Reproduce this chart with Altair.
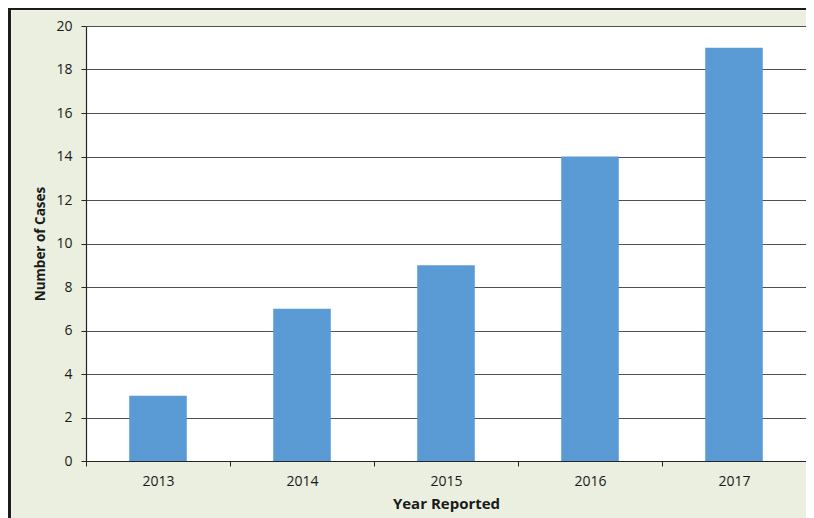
import altair as alt
import pandas as pd

years = ["2013", "2014", "2015", "2016", "2017"]
cases = [3, 7, 9, 14, 19]

df = pd.DataFrame({"year": years, "cases": cases})

FONT = "Open Sans"
TXT = "#1a1a1a"

base = alt.Chart(df)

bars = base.mark_bar(color="#5b9bd5", width=alt.RelativeBandSize(0.4)).encode(
    x=alt.X(
        "year:N",
        sort=years,
        scale=alt.Scale(paddingInner=0, paddingOuter=0),
        axis=alt.Axis(
            title="Year Reported",
            labelAngle=0,
            tickBand="extent",
            grid=False,
            tickSize=5,
            labelPadding=8,
            titlePadding=8,
            titleFontSize=15,
        ),
    ),
    y=alt.Y(
        "cases:Q",
        scale=alt.Scale(domain=[0, 20], nice=False),
        axis=alt.Axis(
            title="Number of Cases",
            values=list(range(0, 21, 2)),
            grid=True,
            tickSize=5,
            labelPadding=9,
            titlePadding=8,
            titleFontSize=13.5,
        ),
    ),
)

# decorative outer frame (dark border on left and top, as in the source)
frame_left = base.mark_rule(color="#1c1c1c", strokeWidth=3).encode(
    x=alt.value(-76.5), y=alt.value(-19), y2=alt.value(500)
)
frame_left_in = base.mark_rule(color="#f4f4f0", strokeWidth=1).encode(
    x=alt.value(-74.5), y=alt.value(-15.5), y2=alt.value(500)
)
frame_top = base.mark_rule(color="#1c1c1c", strokeWidth=2.5).encode(
    x=alt.value(-78), x2=alt.value(730), y=alt.value(-17.2)
)
frame_top_in = base.mark_rule(color="#f4f4f0", strokeWidth=1).encode(
    x=alt.value(-75), x2=alt.value(730), y=alt.value(-15.5)
)

chart = (
    alt.layer(bars, frame_left, frame_left_in, frame_top, frame_top_in)
    .properties(
        width=720,
        height=435,
        autosize=alt.AutoSizeParams(type="none"),
        padding={"left": 78, "top": 18, "right": 0, "bottom": 57},
        background="#ebefdf",
    )
    .configure_view(fill="white", strokeWidth=0)
    .configure_axis(
        domainColor="#262626",
        domainWidth=1.2,
        tickColor="#262626",
        tickWidth=1,
        gridColor="#4f4f4f",
        gridWidth=1,
        labelFont=FONT,
        labelFontSize=14,
        labelColor=TXT,
        titleFont=FONT,
        titleFontWeight="bold",
        titleColor=TXT,
    )
)

chart.save("out.html", embed_options={"renderer": "svg", "actions": False})
